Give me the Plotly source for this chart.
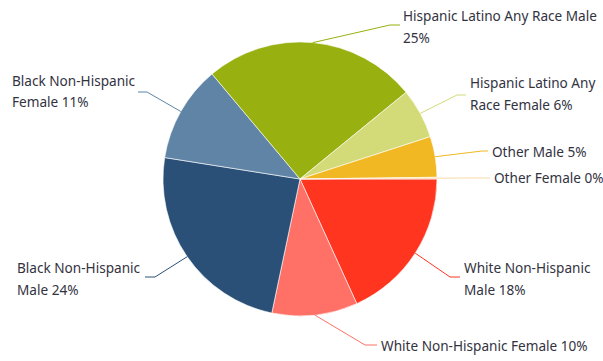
import math
import plotly.graph_objects as go

# slices, clockwise from 3 o'clock
categories = ['White Non-Hispanic Male', 'White Non-Hispanic Female',
              'Black Non-Hispanic Male', 'Black Non-Hispanic Female',
              'Hispanic Latino Any Race Male', 'Hispanic Latino Any Race Female',
              'Other Male', 'Other Female']
values = [18.2, 10.1, 24.2, 11.4, 25.2, 5.9, 4.8, 0.2]
colors = ['#ff3520', '#ff7066', '#2b5078', '#5f84a6',
          '#98b010', '#d3da78', '#f2b823', '#f6dca8']

W, H = 603, 361
CX, CY, R = 300, 179, 137

# label layout: elbow point, line end x, text x, first line y, words on first line (0 = one line)
elbows = [(450, 277), (365, 345), (155, 277), (147, 92), (390, 25), (457, 95), (482, 151), (470, 178)]
line_end_x = [460, 377, 145, 138, 400, 466, 488, 490]
text_x = [462, 379, 15, 10, 401, 468, 490, 492]
text_y = [267, 345, 267, 80, 15, 82, 151, 178]
first_line_words = [2, 0, 2, 2, 5, 3, 0, 0]
LINE_GAP = 22

fig = go.Figure(go.Pie(
    labels=categories, values=values, sort=False, direction='clockwise',
    rotation=90, textinfo='none', hoverinfo='label+percent',
    marker=dict(colors=colors, line=dict(color='white', width=0.6)),
    domain=dict(x=[(CX - R) / W, (CX + R) / W], y=[(H - CY - R) / H, (H - CY + R) / H]),
    showlegend=False,
))

px = lambda x: x / W
py = lambda y: 1 - y / H

total = sum(values)
shapes, annotations = [], []
cum = 0
for i, v in enumerate(values):
    mid = (cum + v / 2) / total * 2 * math.pi
    cum += v
    ex, ey = CX + R * math.cos(mid), CY + R * math.sin(mid)
    bx, by = elbows[i]
    shapes.append(dict(type='path', xref='paper', yref='paper',
                       path=f'M {px(ex)} {py(ey)} L {px(bx)} {py(by)} L {px(line_end_x[i])} {py(by)}',
                       line=dict(color=colors[i], width=1)))
    text = f'{categories[i]} {round(v / total * 100)}%'
    words = text.split(' ')
    n = first_line_words[i]
    lines = [' '.join(words[:n]), ' '.join(words[n:])] if n else [text]
    for j, ln in enumerate(lines):
        annotations.append(dict(x=px(text_x[i]), y=py(text_y[i] + j * LINE_GAP),
                                xref='paper', yref='paper', xanchor='left', yanchor='middle',
                                text=ln, showarrow=False,
                                font=dict(family='Noto Sans', size=13.6, color='#33333f')))

fig.update_layout(width=W, height=H, margin=dict(l=0, r=0, t=0, b=0),
                  paper_bgcolor='white', plot_bgcolor='white',
                  shapes=shapes, annotations=annotations)

fig.write_html('out.html', config={'displayModeBar': False},
               post_script="document.body.style.margin='0';")
